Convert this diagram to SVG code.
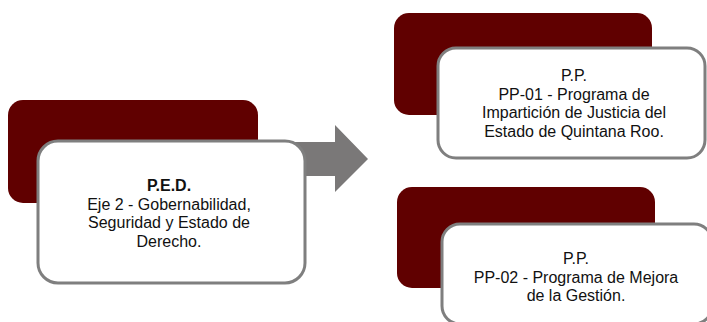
<svg xmlns="http://www.w3.org/2000/svg" width="707" height="322" viewBox="0 0 707 322">
<style>
.back{fill:#600000;}
.front{fill:#ffffff;stroke:#7f7f7f;stroke-width:3;}
.t{font-family:"Liberation Sans",Arial,sans-serif;font-size:16px;fill:#111111;text-anchor:middle;}
.b{font-weight:bold;}
</style>
<rect width="707" height="322" fill="#ffffff"/>
<g id="connectors">
<path d="M250,142 H335 V125 L368,159 L335,192 V176 H250 Z" fill="#7a7878"/>
</g>
<g id="node-ped">
<rect class="back" x="8" y="100" width="250" height="103" rx="15"/>
<rect class="front" x="38" y="141" width="267" height="142" rx="20"/>
<text class="t" x="169" y="191"><tspan class="b" x="169">P.E.D.</tspan><tspan x="169" dy="18.5">Eje 2 - Gobernabilidad,</tspan><tspan x="169" dy="18.5">Seguridad y Estado de</tspan><tspan x="169" dy="18.5">Derecho.</tspan></text>
</g>
<g id="node-pp01">
<rect class="back" x="394" y="13" width="258" height="102" rx="15"/>
<rect class="front" x="438" y="48" width="267" height="110" rx="18"/>
<text class="t" x="574" y="81"><tspan x="574">P.P.</tspan><tspan x="574" dy="18.5">PP-01 - Programa de</tspan><tspan x="574" dy="18.5">Impartición de Justicia del</tspan><tspan x="574" dy="18.5">Estado de Quintana Roo.</tspan></text>
</g>
<g id="node-pp02">
<rect class="back" x="397" y="187" width="258" height="101" rx="15"/>
<rect class="front" x="442" y="224" width="270" height="100" rx="18"/>
<text class="t" x="576" y="264"><tspan x="576">P.P.</tspan><tspan x="576" dy="18.5">PP-02 - Programa de Mejora</tspan><tspan x="576" dy="18.5">de la Gestión.</tspan></text>
</g>
</svg>
